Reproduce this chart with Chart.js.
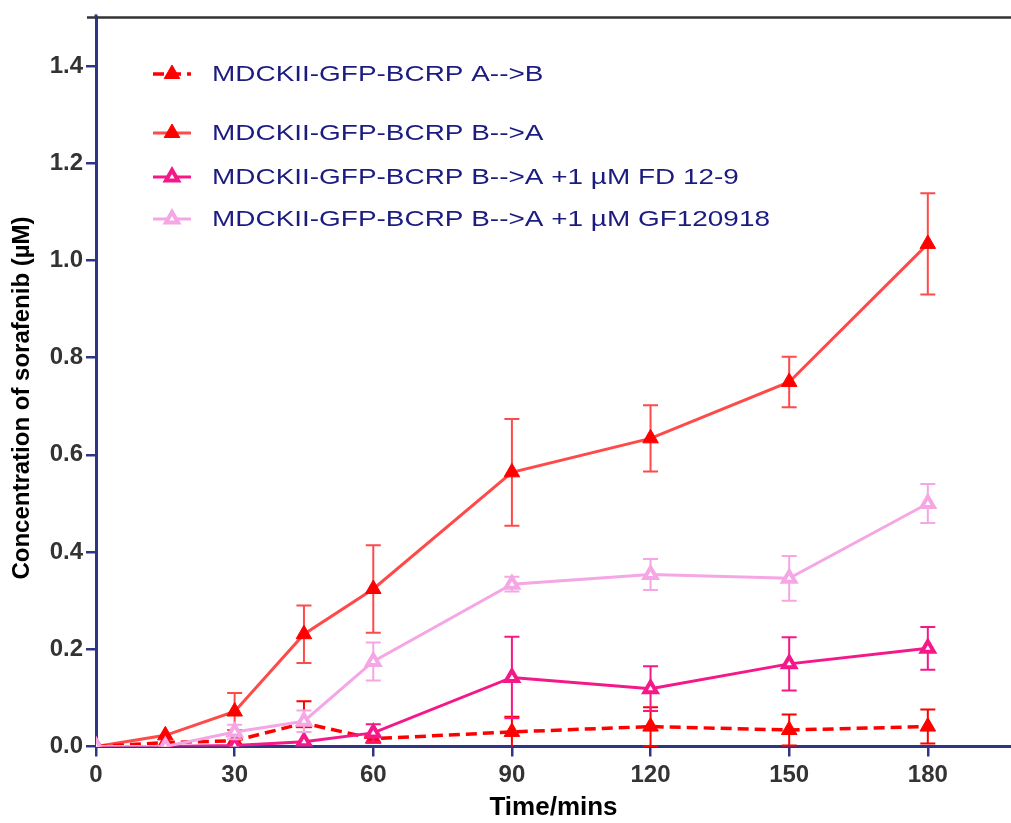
<!DOCTYPE html>
<html>
<head>
<meta charset="utf-8">
<script src="https://cdn.jsdelivr.net/npm/chart.js@4.4.1/dist/chart.umd.min.js"></script>
<style>
  html, body { margin: 0; padding: 0; background: #ffffff; }
  #wrap { width: 1011px; height: 823px; }
</style>
</head>
<body>
<div id="wrap"><canvas id="c" width="1011" height="823"></canvas></div>
<script>
// ---- data ----
const times = [0, 15, 30, 45, 60, 90, 120, 150, 180];
const xTicks = [0, 30, 60, 90, 120, 150, 180];
const yTicks = [0, 0.2, 0.4, 0.6, 0.8, 1.0, 1.2, 1.4];

const seriesNames = [
  'MDCKII-GFP-BCRP A-->B',
  'MDCKII-GFP-BCRP B-->A',
  'MDCKII-GFP-BCRP B-->A +1 µM FD 12-9',
  'MDCKII-GFP-BCRP B-->A +1 µM GF120918'
];

const valAB = [0, 0.008, 0.012, 0.048, 0.016, 0.030, 0.041, 0.034, 0.041];
const errAB = [0, 0, 0, 0.045, 0, 0.031, 0.040, 0.032, 0.035];

const valBA = [0, 0.023, 0.072, 0.231, 0.324, 0.564, 0.634, 0.750, 1.034];
const errBA = [0, 0, 0.038, 0.059, 0.090, 0.110, 0.068, 0.052, 0.104];

const valFD = [0, 0, 0.002, 0.010, 0.028, 0.142, 0.119, 0.170, 0.202];
const errFD = [0, 0, 0, 0, 0.018, 0.084, 0.046, 0.055, 0.044];

const valGF = [0, 0, 0.030, 0.052, 0.175, 0.334, 0.354, 0.346, 0.500];
const errGF = [0, 0, 0.015, 0.022, 0.039, 0.015, 0.032, 0.046, 0.040];

// ---- styling ----
const NAVY = '#2f3585';
const FONT = '"Liberation Sans", Arial, Helvetica, sans-serif';
const pts = (vals) => times.map((t, i) => ({ x: t, y: vals[i] }));

const datasets = [
  {
    label: seriesNames[3], data: pts(valGF), errors: errGF, order: 1,
    borderColor: '#f5a6e4', borderWidth: 3, errColor: '#f5a6e4',
    pointStyle: 'triangle', pointRadius: 7, pointBorderWidth: 4,
    pointBackgroundColor: '#ffffff', pointBorderColor: '#f5a6e4'
  },
  {
    label: seriesNames[2], data: pts(valFD), errors: errFD, order: 2,
    borderColor: '#f51889', borderWidth: 3, errColor: '#f51889',
    pointStyle: 'triangle', pointRadius: 7, pointBorderWidth: 4,
    pointBackgroundColor: '#ffffff', pointBorderColor: '#f51889'
  },
  {
    label: seriesNames[0], data: pts(valAB), errors: errAB, order: 3,
    borderColor: '#ff0000', borderWidth: 3.5, borderDash: [11, 6], errColor: '#ff0000',
    pointStyle: 'triangle', pointRadius: 9, pointBorderWidth: 1,
    pointBackgroundColor: '#ff0000', pointBorderColor: '#ff0000'
  },
  {
    label: seriesNames[1], data: pts(valBA), errors: errBA, order: 4,
    borderColor: '#ff4a4a', borderWidth: 3, errColor: '#ff4a4a',
    pointStyle: 'triangle', pointRadius: 9, pointBorderWidth: 1,
    pointBackgroundColor: '#ff0000', pointBorderColor: '#ff0000'
  }
];

// error bars drawn under each dataset's own line/points
const errorBarPlugin = {
  id: 'errorBars',
  beforeDatasetDraw(chart, args) {
    const ds = chart.data.datasets[args.index];
    if (!ds.errors) return;
    const ctx = chart.ctx;
    const ys = chart.scales.y;
    const area = chart.chartArea;
    ctx.save();
    ctx.strokeStyle = ds.errColor;
    ctx.lineWidth = 2;
    ctx.setLineDash([]);
    const cap = 7.5;
    args.meta.data.forEach((p, j) => {
      const e = ds.errors[j];
      if (!e) return;
      const v = ds.data[j].y;
      let yTop = ys.getPixelForValue(v + e);
      let yBot = ys.getPixelForValue(v - e);
      let botCap = true;
      if (yBot > area.bottom) { yBot = area.bottom; botCap = false; }
      ctx.beginPath();
      ctx.moveTo(p.x, yTop); ctx.lineTo(p.x, yBot);
      ctx.moveTo(p.x - cap, yTop); ctx.lineTo(p.x + cap, yTop);
      if (botCap) { ctx.moveTo(p.x - cap, yBot); ctx.lineTo(p.x + cap, yBot); }
      ctx.stroke();
    });
    ctx.restore();
  }
};

// frame top line, y-axis title, legend
const decorPlugin = {
  id: 'decor',
  afterDraw(chart) {
    const ctx = chart.ctx;
    const area = chart.chartArea;
    ctx.save();
    // top frame line
    ctx.strokeStyle = '#333333';
    ctx.lineWidth = 2.5;
    ctx.beginPath();
    ctx.moveTo(area.left - 9, area.top);
    ctx.lineTo(chart.width, area.top);
    ctx.stroke();
    // y axis slightly above frame
    ctx.strokeStyle = NAVY;
    ctx.lineWidth = 3;
    ctx.beginPath();
    ctx.moveTo(area.left, area.top);
    ctx.lineTo(area.left, area.top - 3);
    ctx.stroke();

    // y title
    ctx.save();
    ctx.translate(22, 398);
    ctx.rotate(-Math.PI / 2);
    ctx.fillStyle = '#000000';
    ctx.font = 'bold 24px ' + FONT;
    ctx.textAlign = 'center';
    ctx.textBaseline = 'middle';
    ctx.fillText('Concentration of sorafenib (µM)', 0, 0);
    ctx.restore();

    // legend
    const rows = [
      { ds: datasets[2], y: 74 },
      { ds: datasets[3], y: 133 },
      { ds: datasets[1], y: 177 },
      { ds: datasets[0], y: 219 }
    ];
    rows.forEach(r => {
      const d = r.ds;
      ctx.save();
      ctx.strokeStyle = d.borderColor;
      ctx.lineWidth = d.borderWidth;
      ctx.setLineDash(d.borderDash || []);
      ctx.beginPath();
      ctx.moveTo(153, r.y); ctx.lineTo(191, r.y);
      ctx.stroke();
      ctx.restore();
      ctx.save();
      ctx.setLineDash([]);
      ctx.fillStyle = d.pointBackgroundColor;
      ctx.strokeStyle = d.pointBorderColor;
      ctx.lineWidth = d.pointBorderWidth;
      Chart.helpers.drawPoint(ctx, {
        pointStyle: 'triangle', radius: d.pointRadius, rotation: 0,
        borderWidth: d.pointBorderWidth
      }, 172, r.y);
      ctx.restore();
      ctx.save();
      ctx.fillStyle = '#1b1b80';
      ctx.font = '22px ' + FONT;
      ctx.textAlign = 'left';
      ctx.textBaseline = 'middle';
      ctx.translate(212, r.y + 1);
      ctx.scale(1.27, 1);
      ctx.fillText(d.label, 0, 0);
      ctx.restore();
    });
    ctx.restore();
  }
};

new Chart(document.getElementById('c'), {
  type: 'line',
  data: { datasets },
  options: {
    responsive: false,
    animation: false,
    devicePixelRatio: 1,
    layout: { autoPadding: false, padding: { top: 10, right: 0, left: 0, bottom: 0 } },
    plugins: { legend: { display: false }, tooltip: { enabled: false } },
    elements: { line: { tension: 0, fill: false } },
    scales: {
      x: {
        type: 'linear', min: 0, max: 198,
        afterBuildTicks: (s) => { s.ticks = xTicks.map(v => ({ value: v })); },
        afterFit: (s) => { s.height = 76.5; },
        border: { color: NAVY, width: 3 },
        grid: { drawOnChartArea: false, drawTicks: true, tickLength: 10, color: NAVY, lineWidth: 2.5 },
        ticks: { color: '#333333', font: { family: FONT, size: 24, weight: 'bold' }, padding: 4, maxRotation: 0, autoSkip: false },
        title: {
          display: true, text: 'Time/mins', color: '#000000',
          font: { family: FONT, size: 26, weight: 'bold' }, padding: { top: 0, bottom: 0 }
        }
      },
      y: {
        type: 'linear', min: 0, max: 1.5,
        afterBuildTicks: (s) => { s.ticks = yTicks.map(v => ({ value: v })); },
        afterFit: (s) => { s.width = 96; },
        border: { color: NAVY, width: 3 },
        grid: { drawOnChartArea: false, drawTicks: true, tickLength: 10, color: NAVY, lineWidth: 2.5 },
        ticks: {
          color: '#333333', font: { family: FONT, size: 24, weight: 'bold' }, padding: 3,
          callback: (v) => Number(v).toFixed(1)
        }
      }
    }
  },
  plugins: [errorBarPlugin, decorPlugin]
});
</script>
</body>
</html>
